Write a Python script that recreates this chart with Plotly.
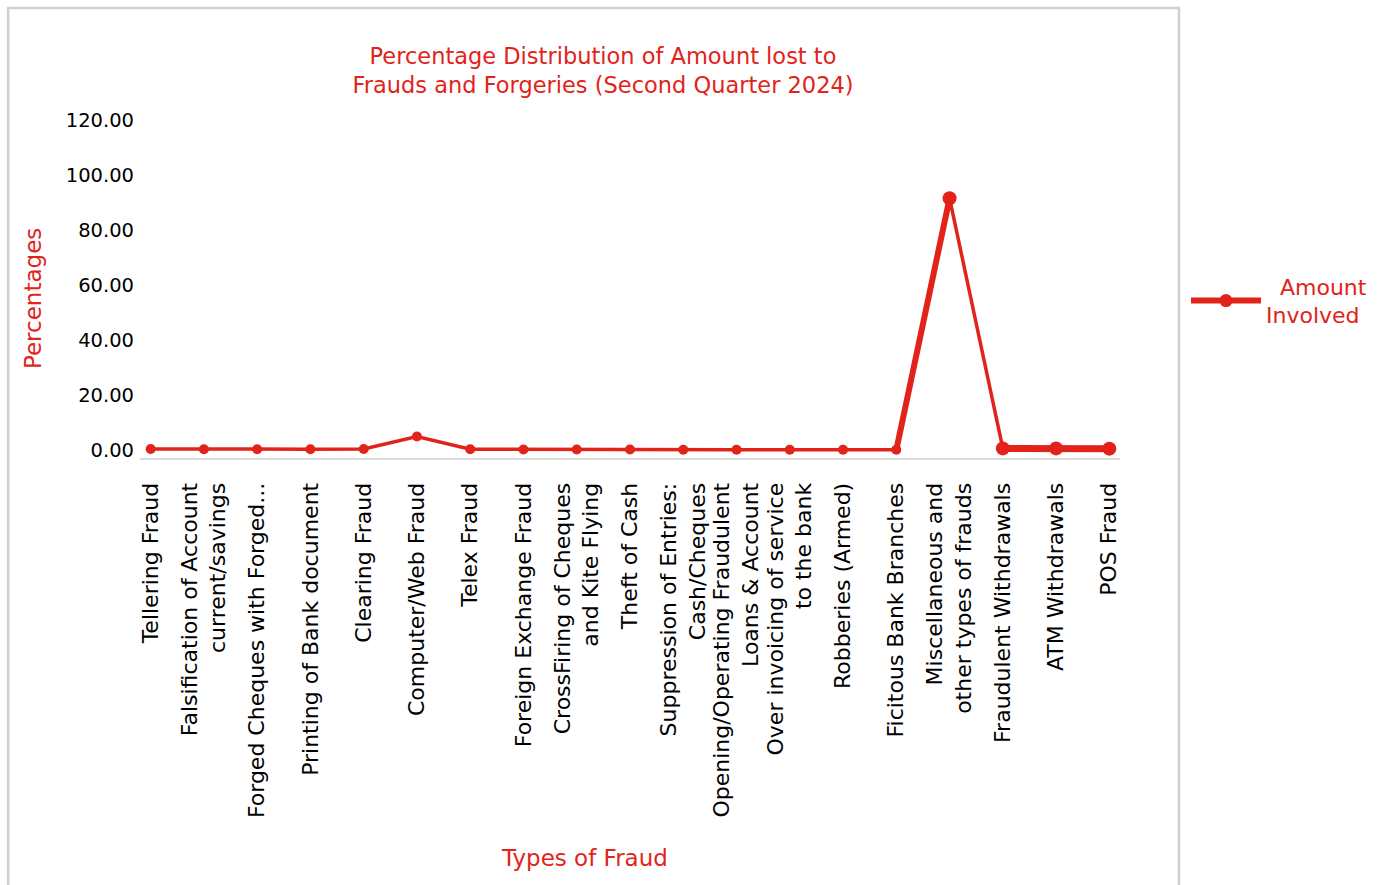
import plotly.graph_objects as go

# Fraud categories (x axis) and share of amount lost, in percent
fraud_types = [
    "Tellering Fraud",
    "Falsification of Account<br>current/savings",
    "Forged Cheques with Forged...",
    "Printing of Bank document",
    "Clearing Fraud",
    "Computer/Web Fraud",
    "Telex Fraud",
    "Foreign Exchange Fraud",
    "CrossFiring of Cheques<br>and Kite Flying",
    "Theft of Cash",
    "Suppression of Entries:<br>Cash/Cheques",
    "Opening/Operating Fraudulent<br>Loans & Account",
    "Over invoicing of service<br>to the bank",
    "Robberies (Armed)",
    "Ficitous Bank Branches",
    "Miscellaneous and<br>other types of frauds",
    "Fraudulent Withdrawals",
    "ATM Withdrawals",
    "POS Fraud",
]
amount_involved = [0.3, 0.2, 0.2, 0.2, 0.3, 4.8, 0.2, 0.1, 0.1, 0.1,
                   0.0, 0.0, 0.0, 0.0, 0.0, 91.5, 0.5, 0.5, 0.4]

y_ticks = [0, 20, 40, 60, 80, 100, 120]
y_tick_text = ["0.00", "20.00", "40.00", "60.00", "80.00", "100.00", "120.00"]

RED = "#e2231a"
FONT = "DejaVu Sans, Open Sans, sans-serif"

# plot-area geometry in pixels (used to place paper-referenced items)
L, R, T, B = 140, 1121, 120, 458
PW, PH = R - L, B - T

fig = go.Figure()
fig.add_trace(go.Scatter(
    x=fraud_types,
    y=amount_involved,
    mode="lines+markers",
    showlegend=False,
    line=dict(color=RED, width=3.5),
    marker=dict(color=RED, size=10),
))
# heavier stroke on the rise to the peak and on the trailing categories
fig.add_trace(go.Scatter(
    x=fraud_types[14:16], y=amount_involved[14:16],
    mode="lines", line=dict(color=RED, width=6),
    showlegend=False, hoverinfo="skip",
))
fig.add_trace(go.Scatter(
    x=fraud_types[15:], y=amount_involved[15:],
    mode="markers", marker=dict(color=RED, size=14),
    showlegend=False, hoverinfo="skip",
))
fig.add_trace(go.Scatter(
    x=fraud_types[16:], y=amount_involved[16:],
    mode="lines", line=dict(color=RED, width=7),
    showlegend=False, hoverinfo="skip",
))
# legend entry
fig.add_trace(go.Scatter(
    x=[None], y=[None],
    mode="lines+markers",
    name="  Amount<br>Involved",
    line=dict(color=RED, width=6),
    marker=dict(color=RED, size=13),
))

fig.update_layout(
    width=1383,
    height=885,
    paper_bgcolor="white",
    plot_bgcolor="white",
    margin=dict(l=L, r=1383 - R, t=T, b=885 - B),
    font=dict(family=FONT, color="black"),
    title=dict(
        text="Percentage Distribution of Amount lost to<br>Frauds and Forgeries (Second Quarter 2024)",
        x=603 / 1383, xanchor="center",
        y=1 - 64 / 885, yanchor="middle",
        font=dict(family=FONT, size=22.5, color=RED),
    ),
    showlegend=True,
    legend=dict(
        x=(1186 - L) / PW, xanchor="left",
        y=(B - 301) / PH, yanchor="middle",
        font=dict(family=FONT, size=22, color=RED),
        itemwidth=70,
        bgcolor="rgba(0,0,0,0)",
    ),
    xaxis=dict(
        type="category",
        range=[-0.2, 18.2],
        tickangle=-90,
        tickfont=dict(family=FONT, size=22, color="black"),
        showgrid=False,
        showline=True,
        linecolor="#d9d9d9",
        linewidth=2,
        ticks="",
        ticklabelstandoff=14,
        automargin=False,
    ),
    yaxis=dict(
        range=[-3, 120],
        tickvals=y_ticks,
        ticktext=y_tick_text,
        tickfont=dict(family=FONT, size=19.5, color="black"),
        showgrid=False,
        zeroline=False,
        showline=False,
        ticks="",
        ticklabelstandoff=5,
        automargin=False,
    ),
    annotations=[
        dict(text="Types of Fraud", xref="paper", yref="paper",
             x=(585 - L) / PW, y=(B - 858) / PH,
             xanchor="center", yanchor="middle", showarrow=False,
             font=dict(family=FONT, size=23, color=RED)),
        dict(text="Percentages", xref="paper", yref="paper",
             x=(33 - L) / PW, y=(B - 299) / PH, textangle=-90,
             xanchor="center", yanchor="middle", showarrow=False,
             font=dict(family=FONT, size=23, color=RED)),
    ],
    shapes=[
        dict(type="rect", xref="paper", yref="paper",
             x0=(8 - L) / PW, x1=(1180 - L) / PW,
             y0=(B - 900) / PH, y1=(B - 8) / PH,
             line=dict(color="#d0d0d0", width=2.5),
             fillcolor="rgba(0,0,0,0)", layer="below"),
    ],
)

fig.write_html("out.html")
